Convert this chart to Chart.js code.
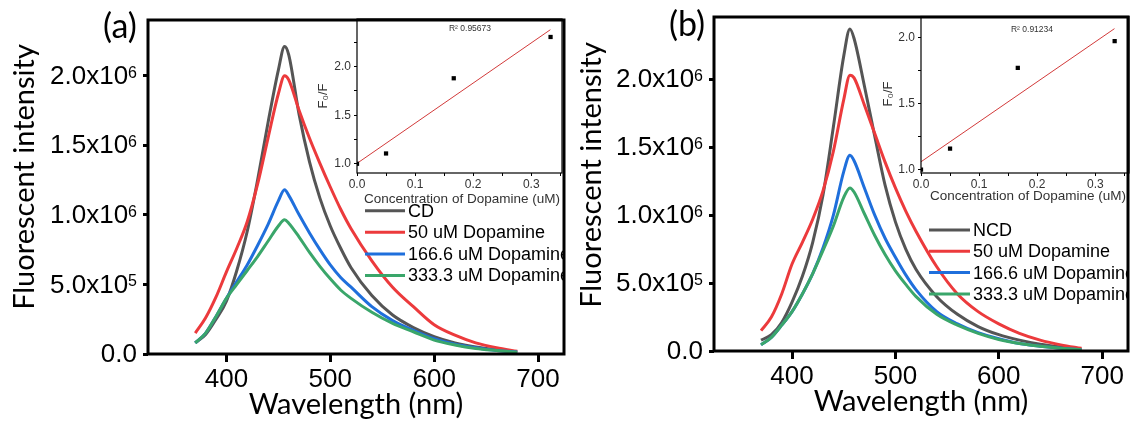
<!DOCTYPE html>
<html>
<head>
<meta charset="utf-8">
<script src="https://cdn.jsdelivr.net/npm/chart.js@4.4.1/dist/chart.umd.min.js"></script>
<style>
  body { margin: 0; background: #fff; }
  #wrap { position: relative; width: 1135px; height: 423px; overflow: hidden; background: #fff; }
  .box { position: absolute; }
</style>
</head>
<body>
<div id="wrap">
  <div class="box" style="left:0;top:0;width:567px;height:423px"><canvas id="mainA"></canvas></div>
  <div class="box" style="left:567px;top:0;width:568px;height:423px"><canvas id="mainB"></canvas></div>
  <div class="box" style="left:300px;top:0;width:267px;height:215px"><canvas id="insetA"></canvas></div>
  <div class="box" style="left:865px;top:0;width:270px;height:215px"><canvas id="insetB"></canvas></div>
</div>
<script>
// emission wavelength (nm)
const wavelength = [370, 380, 390, 400, 410, 420, 430, 440, 450, 456, 460, 470, 480, 490, 500, 510, 520, 540, 560, 580, 600, 620, 640, 660, 680];

// fluorescent intensity, in units of 10^6
const cdA     = [0.08, 0.14, 0.25, 0.38, 0.60, 0.88, 1.25, 1.66, 2.04, 2.21, 2.15, 1.72, 1.38, 1.12, 0.92, 0.76, 0.62, 0.42, 0.28, 0.19, 0.125, 0.08, 0.05, 0.03, 0.015];
const dop50A  = [0.15, 0.26, 0.41, 0.59, 0.76, 0.95, 1.22, 1.55, 1.87, 2.00, 1.97, 1.75, 1.55, 1.37, 1.20, 1.04, 0.90, 0.67, 0.48, 0.34, 0.21, 0.135, 0.08, 0.045, 0.02];
const dop166A = [0.08, 0.15, 0.27, 0.40, 0.52, 0.64, 0.78, 0.93, 1.10, 1.18, 1.14, 1.00, 0.87, 0.75, 0.64, 0.55, 0.48, 0.34, 0.24, 0.17, 0.11, 0.07, 0.045, 0.025, 0.015];
const dop333A = [0.08, 0.15, 0.27, 0.40, 0.50, 0.60, 0.70, 0.81, 0.92, 0.965, 0.94, 0.84, 0.73, 0.63, 0.54, 0.46, 0.40, 0.30, 0.22, 0.16, 0.10, 0.065, 0.04, 0.025, 0.012];

const ncdB    = [0.08, 0.12, 0.21, 0.36, 0.55, 0.80, 1.15, 1.65, 2.17, 2.37, 2.30, 1.95, 1.58, 1.22, 0.95, 0.75, 0.60, 0.40, 0.27, 0.18, 0.12, 0.08, 0.05, 0.03, 0.015];
const dop50B  = [0.15, 0.25, 0.42, 0.64, 0.80, 0.97, 1.18, 1.47, 1.85, 2.03, 2.01, 1.81, 1.60, 1.39, 1.20, 1.03, 0.88, 0.62, 0.42, 0.29, 0.20, 0.13, 0.08, 0.045, 0.02];
const dop166B = [0.045, 0.10, 0.19, 0.29, 0.42, 0.57, 0.76, 1.00, 1.32, 1.44, 1.40, 1.20, 1.00, 0.83, 0.69, 0.56, 0.45, 0.29, 0.20, 0.135, 0.09, 0.055, 0.035, 0.02, 0.01];
const dop333B = [0.045, 0.10, 0.19, 0.29, 0.42, 0.57, 0.74, 0.92, 1.13, 1.20, 1.17, 1.01, 0.85, 0.71, 0.59, 0.49, 0.40, 0.27, 0.19, 0.13, 0.085, 0.055, 0.035, 0.02, 0.01];

const namesA = ['CD', '50 uM Dopamine', '166.6 uM Dopamine', '333.3 uM Dopamine'];
const namesB = ['NCD', '50 uM Dopamine', '166.6 uM Dopamine', '333.3 uM Dopamine'];
const lineColors = ['#555555', '#ec3a3c', '#1f6fdc', '#3aa66a'];

const wlTicks = [400, 500, 600, 700];
const intensityTicks = [0, 0.5, 1.0, 1.5, 2.0];

// quenching insets: F0/F against dopamine concentration
const concentration = [0, 0.05, 0.1666, 0.3333];
const ratioA = [1.0, 1.106, 1.88, 2.305];
const ratioB = [1.0, 1.16, 1.771, 1.973];
const fitX = [0, 0.333];
const fitA = [1.004, 2.38];
const fitB = [1.06, 2.068];
const r2A = 'R\u00b2 0.95673';
const r2B = 'R\u00b2 0.91234';
const concTicks = [0, 0.05, 0.1, 0.15, 0.2, 0.25, 0.3, 0.35];
const ratioTicks = [1.0, 1.25, 1.5, 1.75, 2.0, 2.25];

// "2.0x10" + exponent, split so the exponent can be raised
function sciParts(v) {
  if (v === 0) return ['0.0', ''];
  let n = v * 1e6;
  let e = Math.floor(Math.log10(n) + 1e-9);
  let m = n / Math.pow(10, e);
  return [m.toFixed(1) + 'x10', String(e)];
}

// frame, titles, legend and notes drawn on top of each chart
const decor = {
  id: 'decor',
  afterDraw(chart, args, o) {
    let ctx = chart.ctx;
    let a = chart.chartArea;
    ctx.save();
    ctx.strokeStyle = '#000';
    ctx.lineWidth = o.frameWidth;
    ctx.strokeRect(a.left, a.top, a.right - a.left, a.bottom - a.top);
    ctx.textAlign = 'center';
    ctx.textBaseline = 'middle';
    ctx.fillStyle = o.color;
    if (o.panel) {
      ctx.font = o.panelFont;
      ctx.fillText(o.panel.text, o.panel.x, o.panel.y);
    }
    if (o.xTitle) {
      ctx.font = o.titleFont;
      ctx.fillText(o.xTitle.text, o.xTitle.x, o.xTitle.y);
    }
    if (o.yTitle) {
      ctx.font = o.yFont || o.titleFont;
      ctx.save();
      ctx.translate(o.yTitle.x, o.yTitle.y);
      ctx.rotate(-Math.PI / 2);
      ctx.fillText(o.yTitle.text, 0, 0);
      ctx.restore();
    }
    if (o.note) {
      ctx.font = o.noteFont;
      ctx.fillText(o.note.text, o.note.x, o.note.y);
    }
    if (o.sciTicks) {
      // y tick labels with a raised exponent
      let sc = chart.scales.y;
      let right = o.sciTicks.right;
      for (let i = 0; i < intensityTicks.length; i++) {
        let v = intensityTicks[i];
        let y = sc.getPixelForValue(v);
        let parts = sciParts(v);
        ctx.font = o.sciTicks.supFont;
        let supW = parts[1] ? ctx.measureText(parts[1]).width : 0;
        ctx.font = o.sciTicks.font;
        ctx.textAlign = 'right';
        ctx.textBaseline = 'middle';
        ctx.fillStyle = '#000';
        ctx.fillText(parts[0], right - supW, y + 1);
        if (parts[1]) {
          ctx.font = o.sciTicks.supFont;
          ctx.textAlign = 'left';
          ctx.textBaseline = 'alphabetic';
          ctx.fillText(parts[1], right - supW, y + 2);
        }
      }
      ctx.textAlign = 'center';
      ctx.textBaseline = 'middle';
    }
    if (o.legend) {
      let lg = o.legend;
      ctx.save();
      ctx.beginPath();
      ctx.rect(a.left, a.top, a.right - a.left, a.bottom - a.top);
      ctx.clip();
      ctx.font = lg.font;
      ctx.textAlign = 'left';
      let sets = chart.data.datasets;
      for (let i = 0; i < sets.length; i++) {
        let y = lg.y + i * lg.gap;
        ctx.strokeStyle = sets[i].borderColor;
        ctx.lineWidth = 3;
        ctx.beginPath();
        ctx.moveTo(lg.x, y);
        ctx.lineTo(lg.x + lg.len, y);
        ctx.stroke();
        ctx.fillStyle = '#000';
        ctx.fillText(sets[i].label, lg.x + lg.len + 3, y + 1);
      }
      ctx.restore();
    }
    ctx.restore();
  }
};

function drawMain(canvasId, names, series, yMax, box, decorOpts) {
  let datasets = [];
  for (let i = 0; i < series.length; i++) {
    let pts = [];
    for (let j = 0; j < wavelength.length; j++) {
      pts.push({x: wavelength[j], y: series[i][j]});
    }
    datasets.push({
      label: names[i],
      data: pts,
      borderColor: lineColors[i],
      borderWidth: 3,
      pointRadius: 0,
      cubicInterpolationMode: 'monotone',
      order: series.length - i
    });
  }
  return new Chart(document.getElementById(canvasId), {
    type: 'line',
    data: {datasets: datasets},
    options: {
      responsive: true,
      maintainAspectRatio: false,
      animation: false,
      events: [],
      layout: {padding: {top: box.top, right: box.right, left: 0, bottom: 0}},
      plugins: {legend: {display: false}, tooltip: {enabled: false}, decor: decorOpts},
      scales: {
        x: {
          type: 'linear', min: 324.5, max: 725,
          afterFit: s => { s.height = box.xh; },
          afterBuildTicks: s => { s.ticks = wlTicks.map(v => ({value: v})); },
          grid: {drawOnChartArea: false, tickLength: 8, tickWidth: 3, tickColor: '#000'},
          border: {display: false},
          ticks: {font: {family: 'Liberation Sans', size: 26}, color: '#000', padding: 2, maxRotation: 0, autoSkip: false}
        },
        y: {
          type: 'linear', min: 0, max: yMax,
          afterFit: s => { s.width = box.yw; },
          afterBuildTicks: s => { s.ticks = intensityTicks.map(v => ({value: v})); },
          grid: {drawOnChartArea: false, tickLength: 5, tickWidth: 3, tickColor: '#000'},
          border: {display: false},
          ticks: {display: false}
        }
      }
    },
    plugins: [decor]
  });
}

function drawInset(canvasId, ratio, fit, yMin, yMax, xMax, box, decorOpts) {
  let pts = [];
  for (let i = 0; i < concentration.length; i++) pts.push({x: concentration[i], y: ratio[i]});
  let fitPts = [];
  for (let i = 0; i < fitX.length; i++) fitPts.push({x: fitX[i], y: fit[i]});
  return new Chart(document.getElementById(canvasId), {
    type: 'scatter',
    data: {
      datasets: [{
        data: pts, pointStyle: 'rect', pointRadius: 3, backgroundColor: '#000', borderWidth: 0, showLine: false
      }, {
        data: fitPts, showLine: true, borderColor: '#d23a3a', borderWidth: 1, pointRadius: 0
      }]
    },
    options: {
      responsive: true,
      maintainAspectRatio: false,
      animation: false,
      events: [],
      layout: {padding: {top: box.top, right: box.right, left: 0, bottom: 0}},
      plugins: {legend: {display: false}, tooltip: {enabled: false}, decor: decorOpts},
      scales: {
        x: {
          type: 'linear', min: 0, max: xMax,
          afterFit: s => { s.height = box.xh; },
          afterBuildTicks: s => { s.ticks = concTicks.filter(v => v <= xMax).map(v => ({value: v})); },
          grid: {drawOnChartArea: false, tickLength: 3, tickWidth: 1, tickColor: '#000'},
          border: {display: false},
          ticks: {font: {family: 'Liberation Sans', size: 12}, color: '#333', padding: 1, maxRotation: 0, autoSkip: false,
                  callback: v => Math.abs(v * 10 - Math.round(v * 10)) < 1e-6 ? v.toFixed(1) : ''}
        },
        y: {
          type: 'linear', min: yMin, max: yMax,
          afterFit: s => { s.width = box.yw; },
          afterBuildTicks: s => { s.ticks = ratioTicks.filter(v => v >= yMin && v <= yMax).map(v => ({value: v})); },
          grid: {drawOnChartArea: false, tickLength: 3, tickWidth: 1, tickColor: '#000'},
          border: {display: false},
          ticks: {font: {family: 'Liberation Sans', size: 12}, color: '#333', padding: 3, autoSkip: false,
                  callback: v => Math.abs(v * 2 - Math.round(v * 2)) < 1e-6 ? v.toFixed(1) : ''}
        }
      }
    },
    plugins: [decor]
  });
}

const titleFont = '29px Lato';
const panelFont = '34px Lato';
const sciTicks = {right: 137, font: '26px "Liberation Sans"', supFont: '16px "Liberation Sans"'};

drawMain('mainA', namesA, [cdA, dop50A, dop166A, dop333A], 2.4,
  {top: 20, right: 3, yw: 148, xh: 69},
  {frameWidth: 3, color: '#000', titleFont: titleFont, panelFont: panelFont, sciTicks: sciTicks,
   panel: {text: '(a)', x: 120, y: 27},
   yTitle: {text: 'Fluorescent intensity', x: 25, y: 177},
   xTitle: {text: 'Wavelength (nm)', x: 356, y: 405},
   legend: {x: 365, len: 40, y: 210.7, gap: 21.6, font: '18px "Liberation Sans"'}});

drawMain('mainB', namesB, [ncdB, dop50B, dop166B, dop333B], 2.458,
  {top: 17, right: 7, yw: 147, xh: 72},
  {frameWidth: 3, color: '#000', titleFont: titleFont, panelFont: panelFont,
   sciTicks: {right: 136, font: sciTicks.font, supFont: sciTicks.supFont},
   panel: {text: '(b)', x: 120, y: 25},
   yTitle: {text: 'Fluorescent intensity', x: 25, y: 175},
   xTitle: {text: 'Wavelength (nm)', x: 354, y: 401.7},
   legend: {x: 362, len: 41, y: 230, gap: 21.3, font: '18px "Liberation Sans"'}});

drawInset('insetA', ratioA, fitA, 0.905, 2.49, 0.353,
  {top: 19, right: 5, yw: 57, xh: 42},
  {frameWidth: 1.2, color: '#333', titleFont: '13.5px "Liberation Sans"', yFont: '13px "Liberation Sans"',
   noteFont: '8.5px "Liberation Sans"',
   yTitle: {text: 'F\u2080/F', x: 23, y: 96},
   xTitle: {text: 'Concentration of Dopamine (uM)', x: 162, y: 199},
   note: {text: r2A, x: 170, y: 29}});

drawInset('insetB', ratioB, fitB, 0.975, 2.16, 0.358,
  {top: 16.5, right: 6, yw: 56, xh: 42},
  {frameWidth: 1.2, color: '#333', titleFont: '13.5px "Liberation Sans"', yFont: '13px "Liberation Sans"',
   noteFont: '8.5px "Liberation Sans"',
   yTitle: {text: 'F\u2080/F', x: 23, y: 94},
   xTitle: {text: 'Concentration of Dopamine (uM)', x: 163, y: 196},
   note: {text: r2B, x: 167, y: 29.3}});
</script>
</body>
</html>
